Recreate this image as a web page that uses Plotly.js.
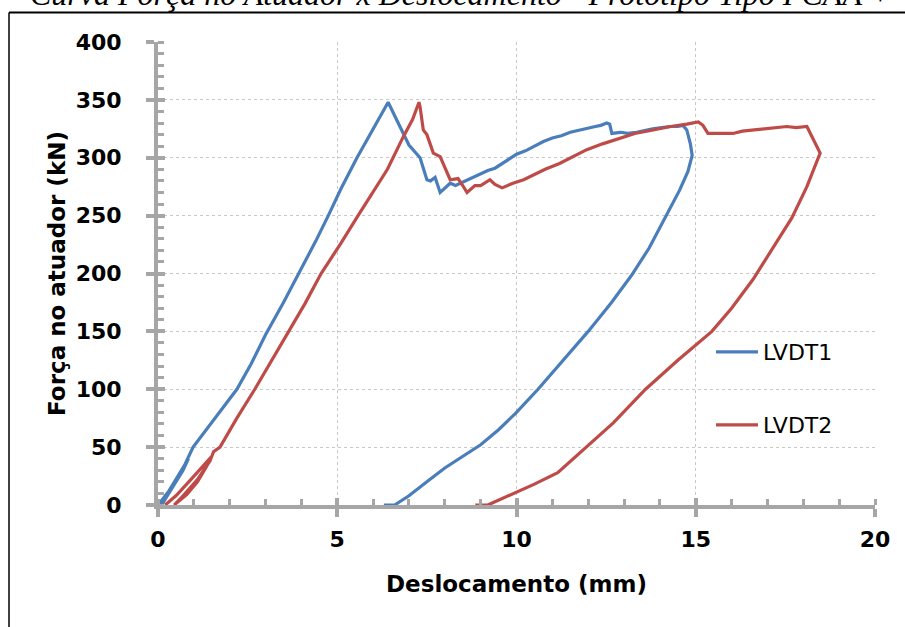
<!DOCTYPE html>
<html>
<head>
<meta charset="utf-8">
<script src="https://cdn.plot.ly/plotly-3.0.1.min.js"></script>
<style>html,body{margin:0;padding:0;background:#fff;}#chart{width:905px;height:627px;}</style>
</head>
<body>
<div id="chart"></div>
<script>
// ---- data ----
const chartTitle = "Curva Força no Atuador x Deslocamento - Protótipo Tipo I CAA +";
const xTitle = "Deslocamento (mm)";
const yTitle = "Força no atuador (kN)";
const seriesNames = ["LVDT1", "LVDT2"];

const lvdt1X = [0, 0.3, 0.6, 0.85, 0.7, 0.4, 0.1, 0.4, 0.75, 0.98, 1.3, 1.7, 2.2, 2.6, 3.0, 3.5, 4.0, 4.4, 4.75, 5.1, 5.55, 5.9, 6.2, 6.42,
  6.7, 7.0, 7.31, 7.5, 7.6, 7.73, 7.87, 8.0, 8.15, 8.3, 8.5, 8.65, 8.8, 9.0, 9.2, 9.4, 9.6, 9.8, 10.0, 10.25, 10.5, 10.75, 11.0, 11.25, 11.5, 11.75, 12.0, 12.2, 12.35, 12.52, 12.6, 12.66, 12.9, 13.1, 13.35, 13.6, 13.8, 14.05, 14.28, 14.5, 14.64,
  14.75, 14.85, 14.9, 14.78, 14.55, 14.15, 13.7, 13.2, 12.65, 12.0, 11.3, 10.6, 10.0, 9.5, 9.0, 8.5, 8.0, 7.5, 7.0, 6.6, 6.3];
const lvdt1Y = [0, 12, 27, 40, 30, 15, 0, 17, 35, 50, 63, 80, 100, 122, 147, 175, 204, 228, 250, 273, 300, 319, 336, 348,
  330, 311, 300, 281, 280, 283, 270, 274, 278, 276, 279, 281, 283, 286, 289, 291, 295, 299, 303, 306, 310, 314, 317, 319, 322, 324, 326, 327, 328, 330, 329, 321, 322, 321, 322, 324, 325, 326, 327, 327, 328,
  324, 312, 302, 288, 272, 248, 222, 198, 175, 150, 125, 100, 80, 65, 52, 42, 32, 20, 8, 0, 0];

const lvdt2X = [0.2, 0.5, 0.89, 1.2, 1.5, 1.35, 1.1, 0.8, 0.45, 0.7, 1.1, 1.45, 1.55, 1.73, 2.2, 2.7, 3.15, 3.6, 4.1, 4.55, 5.1, 5.58, 6.0, 6.4, 6.84, 7.1, 7.28,
  7.31, 7.4, 7.5, 7.68, 7.87, 8.15, 8.37, 8.5, 8.62, 8.84, 9.0, 9.26, 9.4, 9.6, 9.9, 10.2, 10.46, 10.8, 11.2, 11.6, 11.96, 12.4, 12.89, 13.3, 13.81, 14.3, 14.75, 15.07, 15.2, 15.34, 15.7, 16.04, 16.3, 16.6, 17.0, 17.3, 17.54, 17.8, 18.1,
  18.47, 18.1, 17.68, 17.15, 16.6, 16.0, 15.45, 14.5, 13.6, 12.7, 11.95, 11.15, 10.5, 9.9, 9.2, 8.85];
const lvdt2Y = [0, 8, 21, 32, 42, 33, 20, 9, 0, 8, 22, 38, 46, 50, 75, 100, 124, 148, 174, 200, 226, 250, 270, 290, 318, 333, 348,
  344, 324, 320, 304, 301, 281, 282, 276, 270, 276, 276, 281, 277, 274, 278, 281, 285, 290, 295, 301, 307, 312, 317, 321, 324, 327, 329, 331, 328, 321, 321, 321, 323, 324, 325, 326, 327, 326, 327,
  304, 275, 248, 222, 195, 170, 150, 125, 100, 71, 50, 28, 18, 10, 0, 0];

const xTickVals = [0, 5, 10, 15, 20];
const yTickVals = [0, 50, 100, 150, 200, 250, 300, 350, 400];

// ---- styling ----
const blue = "#4A7EBB", red = "#BE4B48", axisGray = "#A6A6A6";
const sansBold = {family: "'DejaVu Sans', sans-serif", size: 22, weight: "bold", color: "#000"};
const titleFont = {family: "'DejaVu Sans', sans-serif", size: 23, weight: "bold", color: "#000"};
const legendFont = {family: "'DejaVu Sans', sans-serif", size: 22, color: "#000"};

const traces = [
  {x: lvdt1X, y: lvdt1Y, type: "scatter", mode: "lines", name: seriesNames[0],
   line: {color: blue, width: 3.2}, legend: "legend"},
  {x: lvdt2X, y: lvdt2Y, type: "scatter", mode: "lines", name: seriesNames[1],
   line: {color: red, width: 3.2}, legend: "legend2"},
  {x: [], y: [], xaxis: "x2", yaxis: "y2", showlegend: false, hoverinfo: "skip", type: "scatter"}
];

const L = 158, R = 875, T = 42, B = 505;
const px2paperX = p => (p - L) / (R - L);
const px2paperY = p => (B - p) / (B - T);

const layout = {
  width: 905, height: 627,
  margin: {l: L, r: 905 - R, t: T, b: 627 - B},
  paper_bgcolor: "#fff", plot_bgcolor: "#fff",
  showlegend: true,
  xaxis: {
    range: [0, 20], tickvals: xTickVals, ticktext: xTickVals.map(String),
    showline: true, linecolor: axisGray, linewidth: 4, zeroline: false,
    ticks: "outside", ticklen: 8, tickwidth: 4, tickcolor: axisGray,
    minor: {ticks: "inside", dtick: 1, ticklen: 6, tickwidth: 3, tickcolor: axisGray, showgrid: false},
    showgrid: true, gridcolor: "#C8C8C8", griddash: "3px,3px", gridwidth: 1,
    tickfont: sansBold, ticklabelstandoff: 4,
    title: {text: xTitle, font: titleFont, standoff: 25}
  },
  yaxis: {
    range: [0, 400], tickvals: yTickVals, ticktext: yTickVals.map(String),
    showline: true, linecolor: axisGray, linewidth: 4, zeroline: false,
    ticks: "outside", ticklen: 8, tickwidth: 4, tickcolor: axisGray,
    minor: {ticks: "inside", dtick: 10, ticklen: 6, tickwidth: 3, tickcolor: axisGray, showgrid: false},
    showgrid: true, gridcolor: "#C8C8C8", griddash: "3px,3px", gridwidth: 1,
    tickfont: sansBold, ticklabelstandoff: 20,
    title: {text: yTitle, font: titleFont, standoff: 5}
  },
  xaxis2: {overlaying: "x", anchor: "y", range: [0, 20], tickvals: xTickVals, showticklabels: false,
    ticks: "inside", ticklen: 7, tickwidth: 4, tickcolor: axisGray, showgrid: false, zeroline: false, showline: false},
  yaxis2: {overlaying: "y", anchor: "x", range: [0, 400], tickvals: yTickVals, showticklabels: false,
    ticks: "inside", ticklen: 7, tickwidth: 4, tickcolor: axisGray, showgrid: false, zeroline: false, showline: false},
  legend: {x: px2paperX(711), y: px2paperY(352), xanchor: "left", yanchor: "middle", itemwidth: 42,
    bgcolor: "rgba(0,0,0,0)", font: legendFont},
  legend2: {x: px2paperX(711), y: px2paperY(425), xanchor: "left", yanchor: "middle", itemwidth: 42,
    bgcolor: "rgba(0,0,0,0)", font: legendFont},
  annotations: [{
    text: chartTitle, xref: "paper", yref: "paper",
    x: px2paperX(28), y: px2paperY(14), xanchor: "left", yanchor: "bottom", showarrow: false,
    font: {family: "'Liberation Serif', 'Times New Roman', serif", size: 32, style: "italic", color: "#000"}
  }],
  shapes: [
    {type: "line", xref: "paper", yref: "paper", x0: px2paperX(9), x1: px2paperX(910), y0: px2paperY(12.5), y1: px2paperY(12.5), line: {color: "#000", width: 2}},
    {type: "line", xref: "paper", yref: "paper", x0: px2paperX(9), x1: px2paperX(9), y0: px2paperY(12.5), y1: px2paperY(640), line: {color: "#000", width: 1.5}}
  ]
};

Plotly.newPlot("chart", traces, layout, {displayModeBar: false, responsive: false});
</script>
</body>
</html>
